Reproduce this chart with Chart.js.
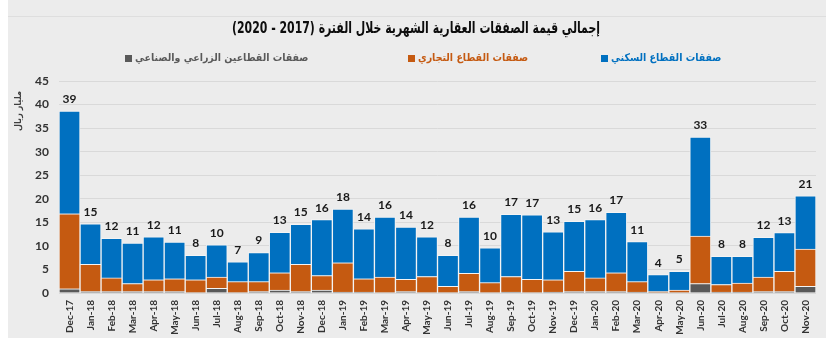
<!DOCTYPE html>
<html lang="ar">
<head>
<meta charset="utf-8">
<script src="https://cdn.jsdelivr.net/npm/chart.js@4/dist/chart.umd.min.js"></script>
<style>
  html, body { margin: 0; padding: 0; background: #ffffff; }
  #wrap { width: 830px; height: 342px; position: relative; }
  canvas { display: block; }
</style>
</head>
<body>
<div id="wrap"><canvas id="chart" width="830" height="342"></canvas></div>
<script>
// Monthly real-estate transactions (billion riyals), Dec 2017 – Nov 2020
const months = [
  'Dec-17','Jan-18','Feb-18','Mar-18','Apr-18','May-18','Jun-18','Jul-18','Aug-18','Sep-18',
  'Oct-18','Nov-18','Dec-18','Jan-19','Feb-19','Mar-19','Apr-19','May-19','Jun-19','Jul-19',
  'Aug-19','Sep-19','Oct-19','Nov-19','Dec-19','Jan-20','Feb-20','Mar-20','Apr-20','May-20',
  'Jun-20','Jul-20','Aug-20','Sep-20','Oct-20','Nov-20'
];

// Agricultural & industrial sectors
const agriIndustrial = [
  0.9, 0.3, 0.3, 0.3, 0.3, 0.3, 0.1, 1.0, 0.1, 0.3,
  0.6, 0.3, 0.6, 0.2, 0.2, 0.1, 0.3, 0.1, 0.1, 0.3,
  0.1, 0.2, 0.1, 0.2, 0.3, 0.3, 0.3, 0.2, 0.1, 0.1,
  2.0, 0.2, 0.2, 0.3, 0.3, 1.4
];

// Commercial sector
const commercial = [
  15.9, 5.8, 2.9, 1.7, 2.5, 2.7, 2.7, 2.4, 2.3, 2.1,
  3.7, 5.8, 3.1, 6.2, 2.8, 3.3, 2.6, 3.4, 1.3, 3.9,
  2.1, 3.3, 2.8, 2.6, 4.3, 2.9, 4.0, 2.2, 0.2, 0.5,
  10.1, 1.6, 1.9, 3.1, 4.3, 7.9
];

// Residential sector
const residential = [
  21.8, 8.6, 8.4, 8.6, 9.1, 7.8, 5.2, 6.8, 4.2, 6.2,
  8.6, 8.5, 11.9, 11.4, 10.6, 12.7, 11.1, 8.4, 6.6, 11.9,
  7.4, 13.2, 13.7, 10.2, 10.6, 12.4, 12.8, 8.5, 3.6, 4.0,
  21.0, 6.0, 5.7, 8.4, 8.2, 11.3
];

const seriesNames = [
  'صفقات القطاعين الزراعي والصناعي',
  'صفقات القطاع التجاري',
  'صفقات القطاع السكني'
];
const seriesColors = ['#595959', '#c55a11', '#0070c0'];

const titleText = 'إجمالي قيمة الصفقات العقارية الشهرية خلال الفترة (2017 - 2020)';
const yAxisTitle = 'مليار ريال';
const yMax = 45;
const yStep = 5;

const arabicFont = "'DejaVu Sans Condensed', 'DejaVu Sans', sans-serif";
const latinFont = "Lato, 'Open Sans', sans-serif";

// Panel background and top divider
const panelPlugin = {
  id: 'panel',
  beforeDraw(chart) {
    const ctx = chart.ctx;
    ctx.save();
    ctx.fillStyle = '#ffffff';
    ctx.fillRect(0, 0, chart.width, chart.height);
    ctx.fillStyle = '#ececec';
    ctx.fillRect(8, 0, 818, 338);
    ctx.strokeStyle = '#dedede';
    ctx.lineWidth = 1;
    ctx.beginPath();
    ctx.moveTo(8, 16.5);
    ctx.lineTo(826, 16.5);
    ctx.stroke();
    ctx.restore();
  }
};

// Title, legend, axis title and total labels
const textPlugin = {
  id: 'texts',
  afterDraw(chart) {
    const ctx = chart.ctx;
    ctx.save();

    // Title, condensed horizontally to fit a 368px line
    ctx.save();
    ctx.direction = 'rtl';
    ctx.fillStyle = '#0d0d0d';
    ctx.font = 'bold 16px ' + arabicFont;
    ctx.textAlign = 'center';
    ctx.textBaseline = 'middle';
    const w = ctx.measureText(titleText).width;
    const sx = Math.min(1, 368 / w);
    ctx.translate(416, 29);
    ctx.scale(sx, 1);
    ctx.fillText(titleText, 0, 0);
    ctx.restore();

    // Legend: square on the left of each label
    const legendItems = [
      { idx: 0, boxX: 125 },
      { idx: 1, boxX: 408 },
      { idx: 2, boxX: 601 }
    ];
    ctx.font = 'bold 10.5px ' + arabicFont;
    ctx.textBaseline = 'middle';
    legendItems.forEach(item => {
      const color = seriesColors[item.idx];
      ctx.fillStyle = color;
      ctx.fillRect(item.boxX, 55, 7, 7);
      ctx.direction = 'rtl';
      ctx.textAlign = 'left';
      ctx.fillText(seriesNames[item.idx], item.boxX + 10, 58.5);
    });

    // Y axis title
    ctx.save();
    ctx.translate(19, 111);
    ctx.rotate(-Math.PI / 2);
    ctx.direction = 'rtl';
    ctx.fillStyle = '#404040';
    ctx.font = 'bold 9px ' + arabicFont;
    ctx.textAlign = 'center';
    ctx.textBaseline = 'middle';
    ctx.fillText(yAxisTitle, 0, 0);
    ctx.restore();

    // Totals above each stacked column
    ctx.direction = 'ltr';
    const topMeta = chart.getDatasetMeta(chart.data.datasets.length - 1);
    ctx.font = 'bold 12px ' + latinFont;
    ctx.fillStyle = '#1a1a1a';
    ctx.textAlign = 'center';
    ctx.textBaseline = 'alphabetic';
    months.forEach((m, i) => {
      const total = agriIndustrial[i] + commercial[i] + residential[i];
      const bar = topMeta.data[i];
      ctx.fillText(String(Math.round(total + 1e-9)), bar.x, bar.y - 8);
    });

    ctx.restore();
  }
};

new Chart(document.getElementById('chart'), {
  type: 'bar',
  data: {
    labels: months,
    datasets: [
      { label: seriesNames[0], data: agriIndustrial, backgroundColor: seriesColors[0] },
      { label: seriesNames[1], data: commercial, backgroundColor: seriesColors[1] },
      { label: seriesNames[2], data: residential, backgroundColor: seriesColors[2] }
    ].map(ds => Object.assign(ds, {
      borderColor: '#f4f4f4',
      borderWidth: 1,
      barPercentage: 1,
      categoryPercentage: 1
    }))
  },
  options: {
    responsive: false,
    animation: false,
    devicePixelRatio: 1,
    layout: { padding: { left: 8, right: 14, top: 81, bottom: 4 } },
    plugins: {
      legend: { display: false },
      title: { display: false },
      tooltip: { enabled: false }
    },
    scales: {
      x: {
        stacked: true,
        grid: { display: false, drawTicks: false },
        border: { display: false },
        ticks: {
          autoSkip: false,
          minRotation: 90,
          maxRotation: 90,
          padding: 7,
          color: '#333333',
          font: { family: latinFont, size: 10, weight: 'bold' }
        },
        afterFit(scale) { scale.height = 45; }
      },
      y: {
        stacked: true,
        min: 0,
        max: yMax,
        grid: { color: '#d9d9d9', drawTicks: false },
        border: { display: false },
        ticks: {
          stepSize: yStep,
          padding: 10,
          color: '#333333',
          font: { family: latinFont, size: 12, weight: 'bold' }
        },
        afterFit(scale) { scale.width = 51; }
      }
    }
  },
  plugins: [panelPlugin, textPlugin]
});
</script>
</body>
</html>
